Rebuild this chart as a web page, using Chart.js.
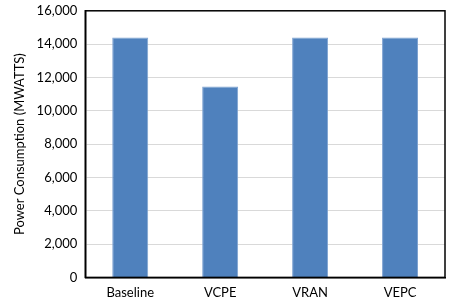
<!DOCTYPE html>
<html lang="en">
<head>
  <meta charset="UTF-8" />
  <title>Power Consumption</title>
  <style>
    body { margin: 0; background: #fff; overflow: hidden; }
    #wrap { position: relative; width: 455px; height: 313px; top: -5px; }
  </style>
  <script src="https://cdn.jsdelivr.net/npm/chart.js"></script>
</head>
<body>
  <div id="wrap"><canvas id="powerChart"></canvas></div>
  <script>
    // chart data
    const categories = ["Baseline", "VCPE", "VRAN", "VEPC"];
    const powerValues = [14400, 11450, 14400, 14400];
    const yTitle = "Power Consumption (MWATTS)";

    // black frame round the plot area
    const frame = {
      id: "frame",
      afterDraw(chart) {
        const a = chart.chartArea, ctx = chart.ctx;
        ctx.save();
        ctx.strokeStyle = "#000";
        ctx.lineWidth = 1.5;
        ctx.strokeRect(a.left, a.top, a.right - a.left, a.bottom - a.top);
        ctx.restore();
      }
    };

    Chart.defaults.font.family = "Lato, 'Open Sans', sans-serif";
    Chart.defaults.font.size = 13;
    Chart.defaults.color = "#000";

    new Chart(document.getElementById("powerChart"), {
      type: "bar",
      data: {
        labels: categories,
        datasets: [{
          data: powerValues,
          backgroundColor: "#4F81BD",
          borderColor: "#7FA3D1",
          borderWidth: 1,
          categoryPercentage: 1,
          barPercentage: 0.4
        }]
      },
      options: {
        responsive: true,
        maintainAspectRatio: false,
        animation: false,
        layout: { padding: { top: 0, right: 10, left: 8, bottom: 7 } },
        plugins: { legend: { display: false }, tooltip: { enabled: false } },
        scales: {
          x: {
            grid: { display: false },
            border: { color: "#000", width: 1.5 },
            ticks: { padding: 0 }
          },
          y: {
            min: 0,
            max: 16000,
            ticks: {
              stepSize: 2000,
              padding: 8,
              callback: v => v.toLocaleString("en-US")
            },
            grid: { color: "#D9D9D9", drawTicks: false },
            border: { color: "#000", width: 1.5 },
            title: { display: true, text: yTitle, font: { size: 13 }, padding: { bottom: 1 } }
          }
        }
      },
      plugins: [frame]
    });
  </script>
</body>
</html>
